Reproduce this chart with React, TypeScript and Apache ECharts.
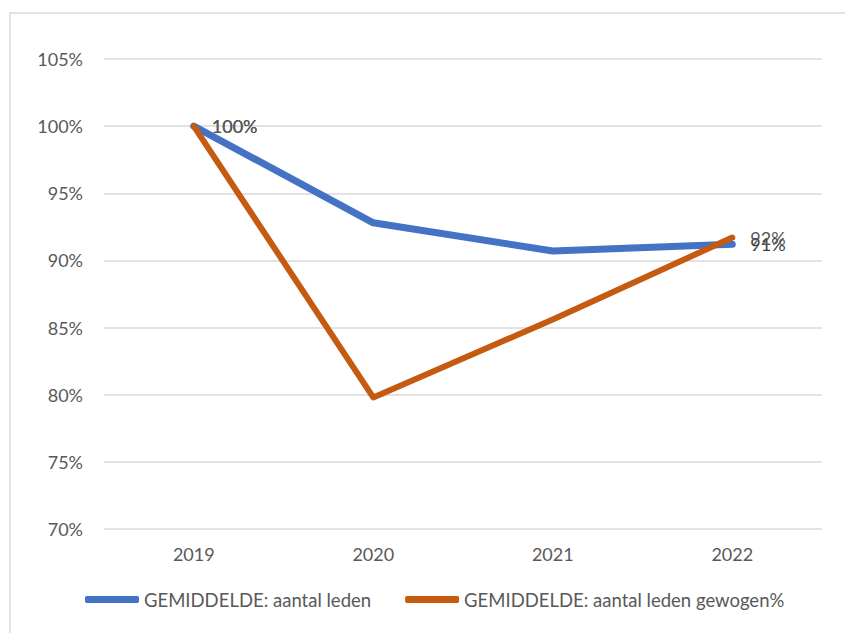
import React, { useEffect, useRef } from "react";
import * as echarts from "echarts";

const categories = ["2019", "2020", "2021", "2022"];
const seriesNames = ["GEMIDDELDE: aantal leden", "GEMIDDELDE: aantal leden gewogen%"];
const ledenValues = [100, 92.8, 90.7, 91.2];
const gewogenValues = [100, 79.8, 85.6, 91.7];
const labelPoints = [0, 3];

const FONT = "Lato, 'Open Sans', sans-serif";
const TEXT = "#595959";

export default function App() {
  const ref = useRef<HTMLDivElement>(null);
  useEffect(() => {
    const chart = echarts.init(ref.current!, null, { renderer: "svg" });
    const mkData = (vals: number[]) =>
      vals.map((v, i) => ({
        value: v,
        label: { show: labelPoints.includes(i) },
      }));
    chart.setOption({
      animation: false,
      backgroundColor: "#ffffff",
      textStyle: { fontFamily: FONT },
      graphic: [
        {
          type: "rect",
          shape: { x: 10, y: 13, width: 900, height: 700 },
          style: { fill: "none", stroke: "#d9d9d9", lineWidth: 1.5 },
          silent: true,
          z: -1,
        },
      ],
      grid: { left: 104, right: 23, top: 59, bottom: 104 },
      legend: {
        bottom: 19,
        left: 80,
        itemWidth: 54,
        itemHeight: 7,
        itemGap: 34,
        icon: "roundRect",
        textStyle: { color: TEXT, fontSize: 18.5, fontFamily: FONT },
        data: seriesNames,
      },
      xAxis: {
        type: "category",
        data: categories,
        boundaryGap: true,
        axisLine: { show: false },
        axisTick: { show: false },
        axisLabel: { color: TEXT, fontSize: 18, margin: 16, fontFamily: FONT },
      },
      yAxis: {
        type: "value",
        min: 70,
        max: 105,
        interval: 5,
        axisLine: { show: false },
        axisTick: { show: false },
        splitLine: { lineStyle: { color: "#d9d9d9", width: 1.5 } },
        axisLabel: {
          color: TEXT,
          fontSize: 18,
          margin: 21,
          fontFamily: FONT,
          formatter: (v: number) => `${v}%`,
        },
      },
      series: [
        {
          name: seriesNames[0],
          type: "line",
          data: mkData(ledenValues),
          showSymbol: true,
          symbol: "circle",
          symbolSize: 0,
          color: "#4472C4",
          lineStyle: { width: 7, color: "#4472C4", cap: "round", join: "round" },
          label: {
            position: "right",
            distance: 18,
            color: "#404040",
            fontSize: 18,
            fontFamily: FONT,
            formatter: (p: any) => `${Math.round(p.value)}%`,
          },
          z: 2,
        },
        {
          name: seriesNames[1],
          type: "line",
          data: mkData(gewogenValues),
          showSymbol: true,
          symbol: "circle",
          symbolSize: 0,
          color: "#C55A11",
          lineStyle: { width: 6, color: "#C55A11", cap: "round", join: "round" },
          label: {
            position: "right",
            distance: 18,
            color: TEXT,
            fontSize: 18,
            fontFamily: FONT,
            formatter: (p: any) => `${Math.round(p.value)}%`,
          },
          z: 3,
        },
      ],
    });
    return () => chart.dispose();
  }, []);
  return (
    <div
      ref={ref}
      style={{ position: "absolute", left: 0, top: 0, width: 845, height: 633 }}
    />
  );
}
